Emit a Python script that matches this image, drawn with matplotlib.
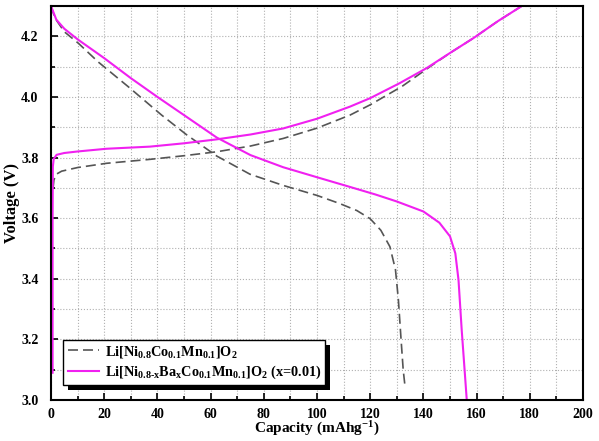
import matplotlib
matplotlib.use('Agg')
import matplotlib.pyplot as plt
import matplotlib.ticker as ticker
from matplotlib.patches import Rectangle

plt.rcParams['font.family'] = ['Liberation Serif', 'DejaVu Serif']
plt.rcParams['font.weight'] = 'bold'
plt.rcParams['mathtext.fontset'] = 'custom'
plt.rcParams['mathtext.rm'] = 'Liberation Serif:bold'
plt.rcParams['mathtext.it'] = 'Liberation Serif:bold'
plt.rcParams['mathtext.bf'] = 'Liberation Serif:bold'

# pristine NCM811 (dashed)
ref_chg_cap = [0.8, 1.1, 2, 4, 10, 20.9, 37.2, 50, 62.3, 75, 87.3, 100, 112.4, 120, 132, 142.5, 150, 158.8, 168, 177]
ref_chg_v = [3.70, 3.726, 3.745, 3.755, 3.767, 3.781, 3.794, 3.806, 3.819, 3.838, 3.863, 3.897, 3.94, 3.974, 4.035, 4.10, 4.145, 4.194, 4.25, 4.30]
ref_dis_cap = [0, 1.5, 5, 10.3, 17.8, 29, 41.6, 51, 62.3, 74.8, 87.3, 100, 108.6, 115, 120, 124, 127.4, 129.5, 130.6, 131.6, 132.4, 133.1]
ref_dis_v = [4.30, 4.26, 4.215, 4.177, 4.115, 4.034, 3.94, 3.875, 3.805, 3.745, 3.708, 3.675, 3.648, 3.625, 3.598, 3.56, 3.506, 3.43, 3.33, 3.2, 3.1, 3.044]

# Ba-doped (solid)
ba_chg_cap = [0.6, 0.6, 0.7, 1.0, 2.1, 5, 10, 20.9, 37.2, 50, 62.3, 75, 87.3, 100, 112.4, 120, 131, 141.2, 150, 158.8, 168, 177]
ba_chg_v = [3.09, 3.6, 3.77, 3.795, 3.809, 3.815, 3.82, 3.829, 3.836, 3.847, 3.860, 3.876, 3.896, 3.928, 3.968, 3.996, 4.045, 4.095, 4.145, 4.194, 4.25, 4.30]
ba_dis_cap = [0, 2, 5, 10, 20, 30, 40, 50, 62.3, 75, 87.3, 100, 112.4, 122, 130, 140, 146, 150, 152, 153.2, 154.4, 155.4, 156.3]
ba_dis_v = [4.30, 4.255, 4.225, 4.19, 4.128, 4.062, 4.0, 3.94, 3.866, 3.808, 3.768, 3.735, 3.703, 3.678, 3.655, 3.622, 3.585, 3.54, 3.484, 3.396, 3.231, 3.11, 3.0]

fig = plt.figure(figsize=(5.99, 4.41), dpi=100)
ax = fig.add_axes([51 / 599, 41 / 441, 532 / 599, 394 / 441])

l1, = ax.plot(ref_chg_cap, ref_chg_v, '--', color='#555555', linewidth=1.2, dashes=(6, 3))
ax.plot(ref_dis_cap, ref_dis_v, '--', color='#555555', linewidth=1.2, dashes=(6, 3))
l2, = ax.plot(ba_chg_cap, ba_chg_v, '-', color='#f020f0', linewidth=1.5)
ax.plot(ba_dis_cap, ba_dis_v, '-', color='#f020f0', linewidth=1.5)

ax.set_xlim(0, 200)
ax.set_ylim(3.0, 4.3)
ax.xaxis.set_major_locator(ticker.MultipleLocator(20))
ax.xaxis.set_minor_locator(ticker.MultipleLocator(10))
ax.yaxis.set_major_locator(ticker.MultipleLocator(0.2))
ax.yaxis.set_minor_locator(ticker.MultipleLocator(0.1))
ax.yaxis.set_major_formatter(ticker.FormatStrFormatter('%.1f'))
ax.tick_params(which='both', direction='in', labelsize=10, width=1.2)
ax.tick_params(which='major', length=5)
ax.tick_params(which='minor', length=3)
ax.tick_params(axis='x', pad=6)
ax.tick_params(axis='y', pad=9)
ax.grid(which='both', linestyle=':', linewidth=0.8, color='#b0b0b0')
for s in ax.spines.values():
    s.set_linewidth(1.5)

ax.set_xlabel('Capacity (mAhg$^{-1}$)', fontsize=11, fontweight='bold', labelpad=-1)
ax.set_ylabel('Voltage (V)', fontsize=12, fontweight='bold', labelpad=1)

leg = ax.legend([l1, l2],
                ['Li[Ni$_{0.8}$Co$_{0.1}$Mn$_{0.1}$]O$_2$',
                 'Li[Ni$_{0.8\\text{-}x}$Ba$_x$Co$_{0.1}$Mn$_{0.1}$]O$_2$ (x=0.01)'],
                loc='lower left', bbox_to_anchor=(0.023, 0.038), fontsize=10.3,
                fancybox=False, edgecolor='black', framealpha=1,
                handlelength=2.2, handletextpad=0.4,
                borderpad=0.3, labelspacing=0.25, borderaxespad=0)
leg.get_frame().set_linewidth(1.0)

# black drop shadow behind the legend box
fig.canvas.draw()
bb = leg.get_window_extent()
shadow = Rectangle((bb.x0 + 5, bb.y0 - 5), bb.width, bb.height, transform=None,
                   facecolor='black', edgecolor='none', zorder=4.9)
ax.add_artist(shadow)

plt.savefig('out.png', dpi=100)
